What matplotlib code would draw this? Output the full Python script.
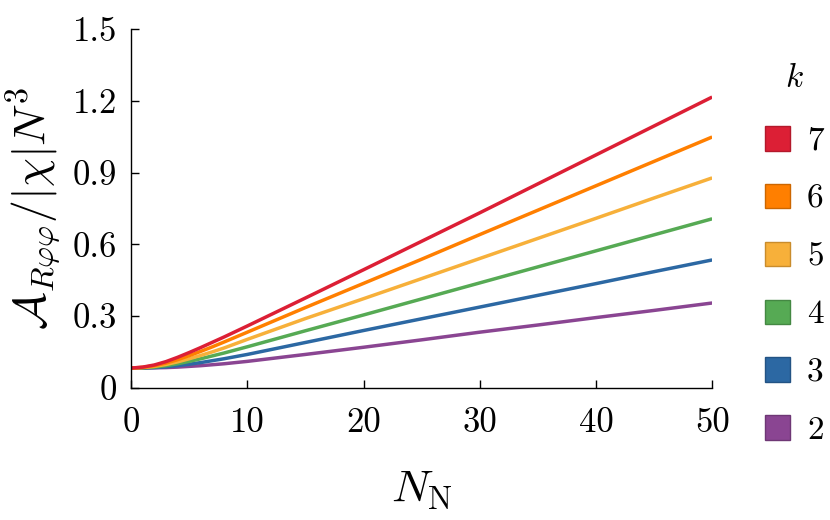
import matplotlib
matplotlib.use("Agg")
import matplotlib.pyplot as plt
from matplotlib.patches import Patch

plt.rcParams['font.family'] = ['cmr10', 'DejaVu Serif']
plt.rcParams['mathtext.fontset'] = 'cm'
plt.rcParams['axes.unicode_minus'] = False

# N_N sample points
n_vals = [0, 1, 2, 3, 4, 5, 6, 7, 8, 10, 15, 20, 25, 30, 35, 40, 45, 50]

# A_{R phi phi} / |chi| N^3 for each k
k7 = [0.083, 0.087, 0.096, 0.110, 0.128, 0.148, 0.169, 0.191, 0.213, 0.259,
      0.376, 0.494, 0.613, 0.732, 0.853, 0.974, 1.095, 1.216]
k6 = [0.083, 0.086, 0.093, 0.104, 0.118, 0.135, 0.153, 0.172, 0.192, 0.233,
      0.336, 0.437, 0.538, 0.641, 0.743, 0.845, 0.947, 1.049]
k5 = [0.083, 0.085, 0.090, 0.098, 0.109, 0.122, 0.136, 0.151, 0.167, 0.203,
      0.290, 0.373, 0.457, 0.541, 0.625, 0.709, 0.794, 0.878]
k4 = [0.083, 0.084, 0.087, 0.093, 0.101, 0.111, 0.122, 0.134, 0.146, 0.172,
      0.239, 0.305, 0.372, 0.439, 0.506, 0.573, 0.640, 0.707]
k3 = [0.083, 0.083, 0.085, 0.088, 0.093, 0.099, 0.106, 0.114, 0.122, 0.140,
      0.190, 0.240, 0.289, 0.338, 0.387, 0.436, 0.486, 0.535]
k2 = [0.083, 0.083, 0.084, 0.085, 0.087, 0.090, 0.093, 0.097, 0.101, 0.111,
      0.140, 0.170, 0.201, 0.233, 0.263, 0.294, 0.324, 0.355]

k_labels = ['7', '6', '5', '4', '3', '2']
series = [k7, k6, k5, k4, k3, k2]
colors = ['#dc1f35', '#ff7f00', '#f7b03a', '#56aa54', '#2c68a3', '#8a4592']
edges = ['#b3192b', '#cc6600', '#c98c2c', '#448843', '#235384', '#6e3775']

x_ticks = [0, 10, 20, 30, 40, 50]
y_ticks = [0, 0.3, 0.6, 0.9, 1.2, 1.5]
y_ticklabels = ['0', '0.3', '0.6', '0.9', '1.2', '1.5']

fig = plt.figure(figsize=(8.3, 5.2), dpi=100)
ax = fig.add_axes([0.158, 0.254, 0.700, 0.690])

# draw k=2 first so k=7 ends up on top
for ys, c in zip(series[::-1], colors[::-1]):
    ax.plot(n_vals, ys, color=c, lw=2.5, solid_capstyle='butt')

ax.set_xlim(0, 50)
ax.set_ylim(0, 1.5)
ax.set_xticks(x_ticks)
ax.set_xticklabels([str(t) for t in x_ticks])
ax.set_yticks(y_ticks)
ax.set_yticklabels(y_ticklabels)
ax.tick_params(direction='in', length=6, width=1, labelsize=25)
ax.tick_params(axis='x', pad=14)
ax.tick_params(axis='y', pad=10)
for s in ['top', 'right']:
    ax.spines[s].set_visible(False)
for s in ['left', 'bottom']:
    ax.spines[s].set_linewidth(1.0)

ax.set_xlabel(r'$N_\mathrm{N}$', fontsize=33, labelpad=22)
ax.set_ylabel(r'$\mathcal{A}_{R\varphi\varphi}/|\chi|N^3$', fontsize=33, labelpad=8)

handles = [Patch(facecolor=c, edgecolor=e, lw=1) for c, e in zip(colors, edges)]
leg = fig.legend(handles, k_labels, loc='upper left', bbox_to_anchor=(0.886, 0.935),
                 frameon=False, fontsize=24, title=r'$k$', title_fontsize=24,
                 handlelength=0.75, handleheight=0.75, handletextpad=0.5,
                 labelspacing=0.84)
leg._legend_box.sep = 24

fig.savefig('out.png', dpi=100)
